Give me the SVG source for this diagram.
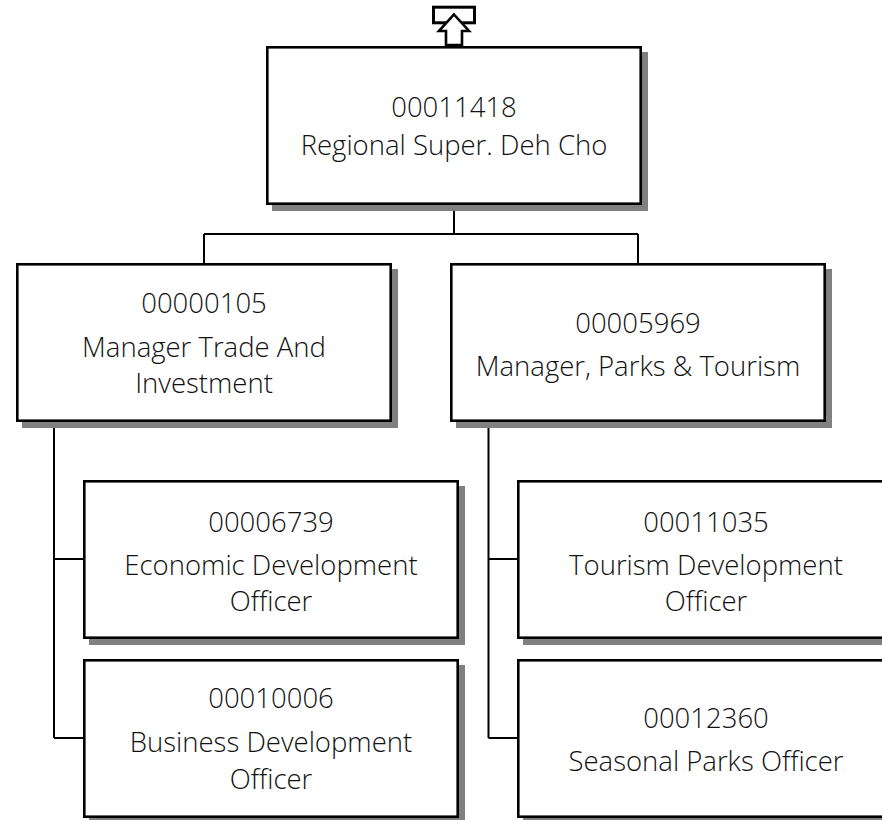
<svg xmlns="http://www.w3.org/2000/svg" width="882" height="820" viewBox="0 0 882 820">
<style>
.box{fill:#fff;stroke:#000;stroke-width:2.6}
.sh{fill:#808080}
.t{font-family:"Open Sans","Liberation Sans",sans-serif;font-size:27.5px;font-weight:300;fill:#111;text-anchor:middle}
.c{fill:none;stroke:#000;stroke-width:2}
</style>
<rect width="882" height="820" fill="#fff"/>
<g id="connectors">
<path class="c" d="M454,205 V234 M204,234 H638 M204,234 V263 M638,234 V263"/>
<path class="c" d="M54,422 V738 M54,559 H83 M54,738 H83"/>
<path class="c" d="M488.5,422 V738 M488.5,559 H517 M488.5,738 H517"/>
</g>
<g id="n00011418">
<rect class="sh" x="272" y="52" width="376" height="159"/>
<rect class="box" x="267.3" y="47.3" width="373.4" height="156.4"/>
<text class="t" x="454" y="116.5">00011418</text>
<text class="t" x="454" y="155">Regional Super. Deh Cho</text>
</g>
<g id="upicon">
<rect x="433.5" y="7.2" width="41" height="15.6" fill="#fff" stroke="#000" stroke-width="3"/>
<polygon points="454,14.5 469,31 462,31 462,45 446,45 446,31 439,31" fill="#fff" stroke="#000" stroke-width="2.6" stroke-linejoin="miter"/>
</g>
<g id="n00000105">
<rect class="sh" x="22" y="269" width="376" height="159"/>
<rect class="box" x="17.3" y="264.3" width="373.4" height="156.4"/>
<text class="t" x="204" y="313.3">00000105</text>
<text class="t" x="204" y="357">Manager Trade And</text>
<text class="t" x="204" y="392.7">Investment</text>
</g>
<g id="n00005969">
<rect class="sh" x="456" y="269" width="376" height="159"/>
<rect class="box" x="451.3" y="264.3" width="373.4" height="156.4"/>
<text class="t" x="638" y="333.3">00005969</text>
<text class="t" x="638" y="376">Manager, Parks &amp; Tourism</text>
</g>
<g id="n00006739">
<rect class="sh" x="89" y="486" width="376" height="159"/>
<rect class="box" x="84.3" y="481.3" width="373.4" height="156.4"/>
<text class="t" x="271" y="531.7">00006739</text>
<text class="t" x="271" y="575">Economic Development</text>
<text class="t" x="271" y="610.7">Officer</text>
</g>
<g id="n00010006">
<rect class="sh" x="89" y="665" width="376" height="159"/>
<rect class="box" x="84.3" y="660.3" width="373.4" height="156.4"/>
<text class="t" x="271" y="708.3">00010006</text>
<text class="t" x="271" y="752.3">Business Development</text>
<text class="t" x="271" y="789">Officer</text>
</g>
<g id="n00011035">
<rect class="sh" x="523" y="486" width="376" height="159"/>
<rect class="box" x="518.3" y="481.3" width="373.4" height="156.4"/>
<text class="t" x="706" y="532.3">00011035</text>
<text class="t" x="706" y="575">Tourism Development</text>
<text class="t" x="706" y="610.7">Officer</text>
</g>
<g id="n00012360">
<rect class="sh" x="523" y="665" width="376" height="159"/>
<rect class="box" x="518.3" y="660.3" width="373.4" height="156.4"/>
<text class="t" x="706" y="728.3">00012360</text>
<text class="t" x="706" y="771">Seasonal Parks Officer</text>
</g>
</svg>
